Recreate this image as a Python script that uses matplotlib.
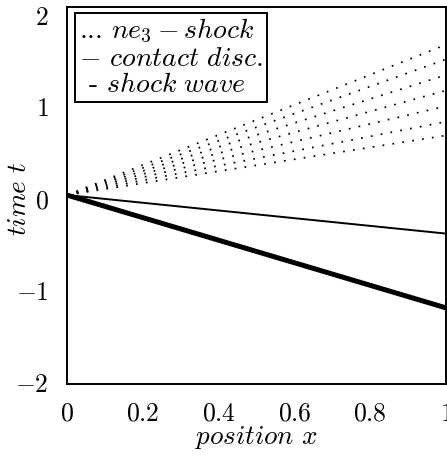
import numpy as np
import matplotlib
matplotlib.use("Agg")
import matplotlib.pyplot as plt

plt.rcParams["mathtext.fontset"] = "cm"
plt.rcParams["font.family"] = "serif"
plt.rcParams["font.serif"] = ["cmr10", "DejaVu Serif"]
plt.rcParams["axes.unicode_minus"] = True

# Wave pattern of the Riemann problem: all waves emanate from the same point
x_origin = 0.0
t_origin = 0.04
x_end = 1.0
# end times (at x = 1) of the rarefaction fan characteristics
fan_end_t = [0.69, 0.84, 1.01, 1.18, 1.35, 1.52, 1.68]
contact_end_t = -0.38
shock_end_t = -1.19

x_ticks = [0, 0.2, 0.4, 0.6, 0.8, 1]
x_tick_labels = ["$0$", "$0.2$", "$0.4$", "$0.6$", "$0.8$", "$1$"]
y_ticks = [-2, -1, 0, 1, 2]
y_tick_labels = ["$-2$", "$-1$", "$0$", "$1$", "$2$"]
legend_labels = [r"... $ne_3 - shock$", r"$-$ $contact\ disc.$", r" - $shock\ wave$"]

fig = plt.figure(figsize=(4.47, 4.57), dpi=100)
ax = fig.add_axes([0.1499, 0.1597, 0.8479, 0.8249])

for te in fan_end_t:
    ax.plot([x_origin, x_end], [t_origin, te], color="black", lw=1.25,
            linestyle=(0, (1.0, 4.75)), dash_capstyle="butt")
ax.plot([x_origin, x_end], [t_origin, contact_end_t], color="black", lw=1.4)
ax.plot([x_origin, x_end], [t_origin, shock_end_t], color="black", lw=3.6,
        solid_capstyle="butt")

ax.set_xlim(0, 1)
ax.set_ylim(-2.02, 2.09)
ax.set_xticks(x_ticks)
ax.set_xticklabels(x_tick_labels)
ax.set_yticks(y_ticks)
ax.set_yticklabels(y_tick_labels)
ax.tick_params(axis="both", length=0, labelsize=18.5)
ax.tick_params(axis="x", pad=13)
ax.tick_params(axis="y", pad=13)
for s in ax.spines.values():
    s.set_linewidth(1.4)

ax.set_xlabel(r"$position\ x$", fontsize=19.5)
ax.set_ylabel(r"$time\ t$", fontsize=19.5)
ax.xaxis.set_label_coords(0.50, -0.105)
ax.yaxis.set_label_coords(-0.096, 0.49)

handles = [plt.Line2D([], [], linestyle="none") for _ in legend_labels]
leg = ax.legend(handles, legend_labels, loc="upper left",
                bbox_to_anchor=(0.021, 0.984), borderaxespad=0,
                handlelength=0, handletextpad=0, fontsize=20,
                frameon=True, fancybox=False, edgecolor="black",
                framealpha=1, borderpad=0.15, labelspacing=0.0)
leg.get_frame().set_linewidth(1.4)
leg.texts[2].set_fontweight("bold")

fig.savefig("out.png", dpi=100)
